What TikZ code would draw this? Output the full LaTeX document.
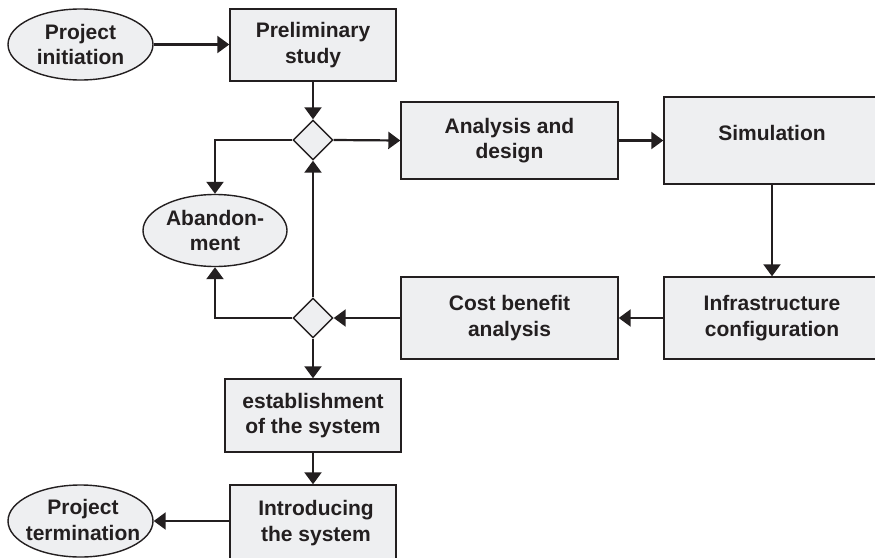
\documentclass[tikz,border=0pt]{standalone}
\usepackage{fontspec}
\setmainfont{Liberation Sans}
\usetikzlibrary{shapes.geometric,arrows.meta}
\definecolor{boxfill}{RGB}{238,239,241}
\definecolor{ink}{RGB}{35,31,32}
\begin{document}
\begin{tikzpicture}[x=1pt,y=-1pt,
  every node/.style={font=\bfseries\fontsize{21}{25.5}\selectfont, text=ink, align=center, inner sep=0pt},
  stepbox/.style={rectangle, draw=ink, fill=boxfill, line width=1.4pt},
  endpoint/.style={ellipse, draw=ink, fill=boxfill, line width=1.4pt},
  choice/.style={diamond, draw=ink, fill=boxfill, line width=1.4pt, minimum width=40pt, minimum height=40pt, aspect=1},
  flow/.style={draw=ink, line width=2.2pt, -{Triangle[length=12pt,width=17pt]}}]
\useasboundingbox (0,0) rectangle (875,557);
\clip (0,0) rectangle (875,557);

% start / end ellipses (fixed size, label set on top)
\node[endpoint, minimum width=145pt, minimum height=71pt] (init) at (80.5,44.5) {};
\node at (init.center) {Project\\initiation};
\node[endpoint, minimum width=144pt, minimum height=72pt] (aband) at (215,230.5) {};
\node at (aband.center) {Abandon-\\ment};
\node[endpoint, minimum width=145pt, minimum height=72pt] (term) at (80.5,521) {};
\node at (83,520) {Project\\termination};

% process boxes
\node[stepbox, minimum width=166pt, minimum height=72pt] (prelim) at (313,45) {Preliminary\\study};
\node[stepbox, minimum width=217pt, minimum height=77pt] (anal) at (509.5,140.5) {Analysis and\\design};
\node[stepbox, minimum width=216pt, minimum height=87pt] (sim) at (772,140.5) {};
\node at (772,133) {Simulation};
\node[stepbox, minimum width=216pt, minimum height=82pt] (infra) at (772,318) {Infrastructure\\configuration};
\node[stepbox, minimum width=217pt, minimum height=82pt] (cost) at (509.5,318) {Cost benefit\\analysis};
\node[stepbox, minimum width=176pt, minimum height=73pt] (estab) at (313,415.5) {establishment\\of the system};
\node[stepbox, minimum width=166pt, minimum height=77pt] (intro) at (313,523.5) {};
\node at (316,523) {Introducing\\the system};

% decisions
\node[choice] (d1) at (313,140) {};
\node[choice] (d2) at (313,318) {};

% connectors
\draw[flow] (init.east) -- (prelim.west |- init.east);
\draw[flow] (prelim.south) -- (d1.north);
\draw[flow] (d1.east) -- (anal.west);
\draw[flow] (anal.east) -- (sim.west |- anal.east);
\draw[flow] (sim.south) -- (infra.north);
\draw[flow] (infra.west) -- (cost.east);
\draw[flow] (cost.west) -- (d2.east);
\draw[flow] (d2.north) -- (d1.south);
\draw[flow] (d1.west) -| (aband.north);
\draw[flow] (d2.west) -| (aband.south);
\draw[flow] (d2.south) -- (estab.north);
\draw[flow] (estab.south) -- (intro.north);
\draw[flow] (intro.west |- term.east) -- (term.east);
\end{tikzpicture}
\end{document}
